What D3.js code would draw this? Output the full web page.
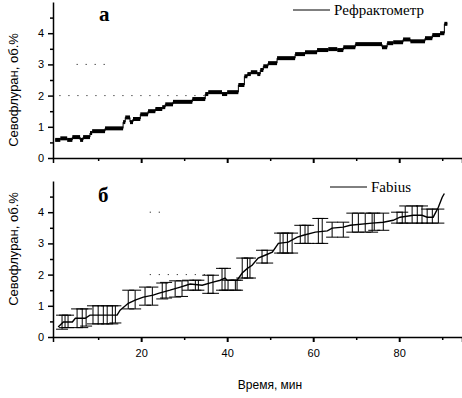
<!DOCTYPE html>
<html lang="ru">
<head>
<meta charset="UTF-8">
<title>Севофлуран</title>
<script src="https://d3js.org/d3.v7.min.js"></script>
<style>
  body { margin: 0; background: #fff; }
  .tick text { font-family: "Liberation Sans", Arial, sans-serif; font-size: 11px; fill: #000; }
  .domain, .tick line { stroke: #000; }
  .ytitle { font-family: "Liberation Sans", Arial, sans-serif; font-size: 13px; }
  .xtitle { font-family: "Liberation Sans", Arial, sans-serif; font-size: 12px; }
  .legend { font-family: "Liberation Serif", "Times New Roman", serif; font-size: 15px; }
  .panel { font-family: "Liberation Serif", "Times New Roman", serif; font-size: 21px; font-weight: bold; }
</style>
</head>
<body>
<div id="chart"></div>
<script>
// refractometer readings: [time, value] — each held until the next time
const refrTime = [0, 1.2, 2.8, 4.0, 5.8, 6.5, 8.1, 8.6, 11.6, 15.8, 16.3, 17.4, 18.1, 19.8, 21.6, 23.3, 24.9, 25.6, 27.4, 31.9,
  34.9, 35.6, 38.8, 40.0, 42.6, 44.0, 44.7, 45.5, 47.0, 47.7, 48.4, 49.5, 51.6, 55.8, 58.1, 60.9, 63.5, 65.6, 67.0, 69.8,
  76.0, 77.2, 78.6, 80.9, 82.6, 86.0, 87.7, 89.5, 90.5, 91.2];
const refrValue = [0.58, 0.63, 0.58, 0.67, 0.58, 0.67, 0.80, 0.86, 0.95, 1.15, 1.30, 1.15, 1.25, 1.40, 1.50, 1.57, 1.63, 1.72, 1.80, 1.89,
  2.05, 2.11, 2.05, 2.11, 2.34, 2.62, 2.69, 2.75, 2.69, 2.82, 2.94, 3.04, 3.20, 3.33, 3.39, 3.46, 3.49, 3.46, 3.55, 3.65,
  3.55, 3.68, 3.71, 3.80, 3.74, 3.84, 3.94, 4.00, 4.30, 4.30];

// Fabius mean curve
const fabTime = [0.7, 1.9, 4.0, 4.7, 7.0, 8.1, 14.4, 15.1, 17.0, 18.6, 20.5, 22.8, 24.0, 26.7, 29.1, 31.4, 34.2, 36.7, 38.4, 39.5,
  40.0, 42.3, 43.5, 44.7, 45.8, 47.2, 48.8, 50.5, 51.9, 54.2, 56.3, 57.7, 60.5, 63.3, 64.4, 67.0, 68.6, 73.7, 76.3, 78.6,
  80.2, 83.3, 85.3, 86.5, 87.9, 89.1, 90.0, 90.5];
const fabValue = [0.32, 0.48, 0.48, 0.60, 0.60, 0.70, 0.70, 0.86, 1.08, 1.18, 1.28, 1.34, 1.40, 1.50, 1.60, 1.70, 1.66, 1.76, 1.82, 1.89,
  1.82, 1.82, 2.05, 2.20, 2.30, 2.53, 2.62, 2.72, 3.00, 3.04, 3.20, 3.26, 3.36, 3.40, 3.49, 3.52, 3.58, 3.65, 3.68, 3.74,
  3.84, 3.90, 3.90, 3.84, 3.84, 4.16, 4.48, 4.60];

// Fabius error bars
const errTime = [1.6, 2.3, 3.0, 5.1, 6.3, 7.2, 8.8, 10.0, 11.2, 12.1, 13.3, 14.0, 17.0, 18.6, 20.9, 22.6, 24.9, 25.8, 27.9, 29.5,
  30.9, 32.6, 33.3, 35.6, 36.7, 38.8, 39.5, 40.2, 41.9, 42.3, 43.5, 44.7, 45.3, 48.1, 49.3, 52.3, 53.0, 54.0, 55.1,
  57.0, 58.1, 58.8, 61.2, 62.1, 64.4, 67.0, 69.1, 70.5, 72.1, 73.7, 74.2, 76.3, 79.5, 80.7, 81.4, 83.0, 84.2, 85.3,
  86.5, 87.7, 89.1];
const errLow = [0.25, 0.30, 0.30, 0.30, 0.30, 0.35, 0.42, 0.42, 0.42, 0.42, 0.42, 0.45, 0.90, 0.90, 1.02, 1.02, 1.22, 1.25, 1.28, 1.30,
  1.50, 1.50, 1.50, 1.40, 1.40, 1.50, 1.50, 1.50, 1.50, 1.50, 1.89, 1.89, 1.89, 2.37, 2.37, 2.69, 2.69, 2.69, 2.69,
  3.00, 3.00, 3.00, 3.00, 3.00, 3.20, 3.20, 3.36, 3.36, 3.36, 3.36, 3.42, 3.42, 3.65, 3.65, 3.65, 3.65, 3.65, 3.65,
  3.65, 3.65, 3.65];
const errHigh = [0.70, 0.70, 0.70, 0.90, 0.90, 0.90, 1.00, 1.00, 1.00, 1.00, 1.00, 1.00, 1.50, 1.50, 1.60, 1.60, 1.73, 1.75, 1.80, 1.80,
  1.82, 1.82, 1.82, 1.98, 1.98, 2.20, 2.20, 1.82, 1.82, 1.82, 2.53, 2.53, 2.53, 2.78, 2.78, 3.33, 3.33, 3.33, 3.33,
  3.58, 3.58, 3.58, 3.80, 3.80, 3.68, 3.68, 3.97, 3.97, 3.97, 3.97, 3.97, 3.97, 4.00, 4.00, 4.20, 4.20, 4.20, 4.20,
  4.10, 4.10, 4.10];

// faint dotted remnants seen in the scan: [value, from, to]
const dotsTop = [[2, 1, 35], [3, 5, 12]];
const dotsBottom = [[2, 22, 35], [4, 22, 26]];

const yTicks = [0, 1, 2, 3, 4];
const xTicks = [20, 40, 60, 80];

const W = 462, H = 398;
const svg = d3.select("#chart").append("svg")
  .attr("width", W).attr("height", H);

const x = d3.scaleLinear().domain([-0.5, 94.6]).range([53, 462]);
const yTop = d3.scaleLinear().domain([0, 5]).range([158, 2]);
const yBot = d3.scaleLinear().domain([0, 5]).range([337, 181]);

function drawAxes(y, showLabels) {
  const ax = svg.append("g").attr("transform", `translate(0,${y(0)})`);
  ax.call(d3.axisBottom(x).tickValues(d3.range(10, 91, 10)).tickSize(5)
    .tickFormat(d => showLabels && xTicks.includes(d) ? d : ""));
  ax.selectAll(".tick line").attr("y2", d => d % 20 === 0 ? 5 : 3).attr("stroke-width", d => d % 20 === 0 ? 2 : 1.5);
  ax.select(".domain").attr("stroke-width", 1.5);
  ax.selectAll(".tick text").attr("dy", "1.05em");

  const ay = svg.append("g").attr("transform", `translate(53,0)`);
  ay.call(d3.axisLeft(y).tickValues(d3.range(0, 4.6, 0.5)).tickSizeOuter(0)
    .tickFormat(d => yTicks.includes(d) ? d : ""));
  ay.selectAll(".tick line").attr("x2", d => Number.isInteger(d) ? -5 : -3).attr("stroke-width", 1.5);
  ay.select(".domain").attr("stroke-width", 1.5);
  ay.selectAll(".tick text").attr("x", -9);
}

drawAxes(yTop, false);
drawAxes(yBot, true);

function drawDots(list, y) {
  list.forEach(d => {
    svg.append("line")
      .attr("x1", x(d[1])).attr("x2", x(d[2]))
      .attr("y1", y(d[0])).attr("y2", y(d[0]))
      .attr("stroke", "#000").attr("stroke-width", 1)
      .attr("stroke-dasharray", "1,8");
  });
}
drawDots(dotsTop, yTop);
drawDots(dotsBottom, yBot);

// top panel: refractometer
const refr = refrTime.map((t, i) => ({ t, v: refrValue[i] }));
svg.append("path")
  .datum(refr)
  .attr("fill", "none").attr("stroke", "#000").attr("stroke-width", 1)
  .attr("d", d3.line().x(d => x(d.t)).y(d => yTop(d.v)).curve(d3.curveStepAfter));
svg.append("g").selectAll("line")
  .data(refr.slice(0, -1))
  .join("line")
  .attr("x1", d => x(d.t))
  .attr("x2", (d, i) => x(refr[i + 1].t))
  .attr("y1", d => yTop(d.v)).attr("y2", d => yTop(d.v))
  .attr("stroke", "#000").attr("stroke-width", 4);

// bottom panel: Fabius with error bars
const err = errTime.map((t, i) => ({ t, lo: errLow[i], hi: errHigh[i] }));
const eg = svg.append("g").attr("stroke", "#000").attr("stroke-width", 1);
eg.selectAll(".ev").data(err).join("line")
  .attr("x1", d => x(d.t)).attr("x2", d => x(d.t))
  .attr("y1", d => yBot(d.lo)).attr("y2", d => yBot(d.hi));
["lo", "hi"].forEach(k => {
  eg.selectAll(".cap-" + k).data(err).join("line")
    .attr("x1", d => x(d.t) - 6).attr("x2", d => x(d.t) + 6)
    .attr("y1", d => yBot(d[k])).attr("y2", d => yBot(d[k]));
});

const fab = fabTime.map((t, i) => ({ t, v: fabValue[i] }));
svg.append("path")
  .datum(fab)
  .attr("fill", "none").attr("stroke", "#000").attr("stroke-width", 1.4)
  .attr("d", d3.line().x(d => x(d.t)).y(d => yBot(d.v)));

// titles
svg.append("text").attr("class", "ytitle")
  .attr("transform", "translate(18,90) rotate(-90)")
  .attr("text-anchor", "middle").text("Севофлуран, об.%");
svg.append("text").attr("class", "ytitle")
  .attr("transform", "translate(18,249) rotate(-90)")
  .attr("text-anchor", "middle").text("Севофлуран, об.%");
svg.append("text").attr("class", "xtitle")
  .attr("x", 270).attr("y", 389).attr("text-anchor", "middle").text("Время, мин");

svg.append("text").attr("class", "panel").attr("x", 99).attr("y", 21).text("а");
svg.append("text").attr("class", "panel").attr("x", 98).attr("y", 202).text("б");

// legends
svg.append("line").attr("x1", 293).attr("x2", 330).attr("y1", 10).attr("y2", 10)
  .attr("stroke", "#000").attr("stroke-width", 1);
svg.append("text").attr("class", "legend").attr("x", 334).attr("y", 15).text("Рефрактометр");
svg.append("line").attr("x1", 330).attr("x2", 367).attr("y1", 187).attr("y2", 187)
  .attr("stroke", "#000").attr("stroke-width", 1);
svg.append("text").attr("class", "legend").attr("x", 371).attr("y", 192).text("Fabius");
</script>
</body>
</html>
